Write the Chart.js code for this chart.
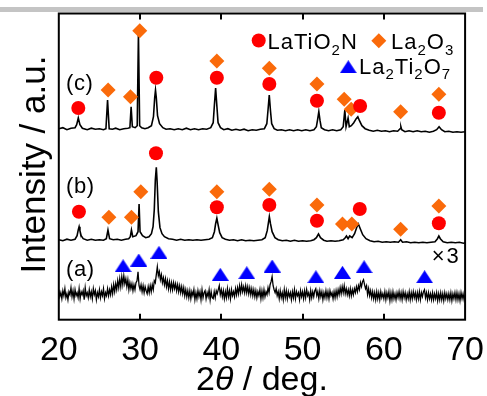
<!DOCTYPE html>
<html lang="en">
<head>
  <meta charset="UTF-8">
  <title>XRD patterns</title>
  <style>
    html, body { margin: 0; padding: 0; background: #fff; }
    .chart-container { width: 487px; height: 396px; }
  </style>
  <script src="https://cdn.jsdelivr.net/npm/chart.js"></script>
</head>
<body>
  <div class="chart-container">
    <canvas id="xrdChart" width="487" height="396"></canvas>
  </div>
  <script>
    // [2theta (deg), intensity (a.u., offset)]
    const traceC = [[20.0,191],[20.5,192],[21.0,190],[21.5,191.5],[22.0,192],[22.2,195],[22.4,201.7],[22.6,195],[22.9,191.5],[23.5,190],[24.0,191.5],[24.5,190.5],[25.0,191],[25.5,190],[25.8,191],[26.0,219.7],[26.2,191],[26.6,190.5],[27.0,191.5],[27.5,190],[28.0,191],[28.5,191.5],[28.75,192],[28.9,213],[29.05,193],[29.4,192],[29.65,194],[29.8,286.7],[29.95,194],[30.2,192],[30.6,191],[31.0,192],[31.4,194],[31.65,203],[31.8,222],[31.9,229.7],[32.0,222],[32.15,204],[32.4,196],[32.8,192],[33.2,190.5],[33.7,191],[34.2,190],[34.7,191],[35.2,190],[35.7,191.5],[36.2,190],[36.7,191],[37.2,190],[37.7,191],[38.2,190.5],[38.7,192],[39.0,197],[39.15,215],[39.3,231.7],[39.45,214],[39.6,197],[39.9,192],[40.3,190],[40.8,191],[41.3,189.5],[41.8,190.5],[42.3,189.5],[42.8,190.5],[43.3,189],[43.8,190],[44.3,189.5],[44.8,190.5],[45.3,191],[45.6,196],[45.75,210],[45.9,224.7],[46.05,209],[46.2,196],[46.5,191],[46.9,189.5],[47.4,190],[47.9,189],[48.4,190],[48.9,189],[49.4,190],[49.9,189],[50.4,190],[50.9,189],[51.4,190],[51.7,193],[51.85,200],[52.0,208],[52.15,199],[52.3,192],[52.7,190],[53.2,189],[53.7,190],[54.2,189],[54.7,190],[55.0,193],[55.2,209.7],[55.35,193],[55.6,201.7],[55.75,193],[56.0,194],[56.3,197],[56.6,201],[56.8,203],[57.0,199],[57.3,194],[57.7,191],[58.2,189.5],[58.7,188.5],[59.2,189.5],[59.7,188.5],[60.2,189],[60.7,188],[61.2,189],[61.7,188.5],[62.0,191],[62.1,193],[62.2,190],[62.6,188],[63.1,189],[63.6,188],[64.1,189],[64.6,188],[65.1,188.5],[65.6,187.5],[66.1,188.5],[66.5,190],[66.8,193],[67.1,190],[67.5,188],[68.0,188.5],[68.5,187.5],[69.0,188],[69.5,187.5],[70.0,188]];

    const traceB = [[20.0,80],[20.5,79],[21.0,80.5],[21.5,79.5],[22.0,80.5],[22.25,84],[22.4,90],[22.5,93],[22.6,89],[22.75,84],[23.0,81],[23.5,79.5],[24.0,80.5],[24.5,79.5],[25.0,80],[25.5,79.5],[25.85,81],[26.05,89.7],[26.25,81],[26.7,80],[27.2,80.5],[27.7,79.5],[28.2,80.5],[28.6,81],[28.8,83],[28.94,89.7],[29.1,83],[29.5,84],[29.75,88],[29.88,115.7],[30.0,88],[30.3,84],[30.7,82],[31.1,83],[31.4,86],[31.6,93],[31.75,110],[31.88,140],[32.0,152.4],[32.1,138],[32.25,108],[32.45,92],[32.7,86],[33.0,83],[33.5,81],[34.0,80.5],[34.5,79.5],[35.0,80.5],[35.5,79.5],[36.0,80],[36.5,79.5],[37.0,80],[37.5,79.5],[38.0,80],[38.5,80.5],[38.9,82],[39.15,88],[39.3,96],[39.45,101.4],[39.6,95],[39.8,87],[40.1,82],[40.5,80.5],[41.0,79.5],[41.5,80],[42.0,79],[42.5,80],[43.0,79],[43.5,79.5],[44.0,79],[44.5,79.5],[45.0,80],[45.4,82],[45.65,89],[45.8,97],[45.91,103],[46.05,96],[46.25,88],[46.6,82],[47.0,80],[47.5,79],[48.0,79.5],[48.5,78.5],[49.0,79.5],[49.5,78.5],[50.0,79],[50.5,78.5],[51.0,79],[51.4,80],[51.7,82],[51.96,85.7],[52.2,82],[52.6,79.5],[53.0,78.5],[53.5,79],[54.0,78.5],[54.5,79],[55.0,80],[55.25,82],[55.4,83.7],[55.6,81],[55.8,83.7],[56.1,82],[56.4,86],[56.65,92],[56.87,95.7],[57.1,91],[57.4,85],[57.8,81],[58.3,79],[58.8,78],[59.3,78.5],[59.8,77.5],[60.3,78],[60.8,77.5],[61.3,78],[61.8,77.5],[62.07,80],[62.3,77.5],[62.8,78],[63.3,77],[63.8,77.5],[64.3,77],[64.8,77.5],[65.3,77],[65.8,77.5],[66.3,78],[66.6,81],[66.77,83.7],[66.95,81],[67.3,78],[67.8,77],[68.3,77.5],[68.8,77],[69.3,77.5],[69.8,76.5],[70.0,77]];

    // (a) is the noisy, x3-scaled pattern: one value every 0.125 deg
    const traceA = [
      [20,30],[20.125,23],[20.25,27],[20.375,21],[20.5,29],[20.625,24],[20.75,31],[20.875,22],
      [21,26],[21.125,20],[21.25,28],[21.375,25],[21.5,32],[21.625,23],[21.75,29],[21.875,21],
      [22,30],[22.125,24],[22.25,27],[22.375,22],[22.5,31],[22.625,21],[22.75,28],[22.875,25],
      [23,29],[23.125,20],[23.25,32],[23.375,24],[23.5,27],[23.625,22],[23.75,30],[23.875,23],
      [24,28],[24.125,21],[24.25,31],[24.375,25],[24.5,29],[24.625,20],[24.75,27],[24.875,23],
      [25,30],[25.125,22],[25.25,28],[25.375,24],[25.5,31],[25.625,21],[25.75,27],[25.875,24],
      [26,31],[26.125,24],[26.25,30],[26.375,25],[26.5,33],[26.625,26],[26.75,35],[26.875,28],
      [27,36],[27.125,30],[27.25,39],[27.375,32],[27.5,41],[27.625,33],[27.75,43],[27.875,35],
      [28,44],[28.125,36],[28.25,41],[28.375,33],[28.5,40],[28.625,30],[28.75,37],[28.875,31],
      [29,36],[29.125,29],[29.25,35],[29.375,30],[29.5,37],[29.625,39],[29.75,48],[29.875,34],
      [30,30],[30.125,35],[30.25,28],[30.375,34],[30.5,27],[30.625,33],[30.75,29],[30.875,26],
      [31,33],[31.125,27],[31.25,34],[31.375,28],[31.5,35],[31.625,30],[31.75,39],[31.875,37],
      [32,45],[32.125,53],[32.25,44],[32.375,48],[32.5,40],[32.625,45],[32.75,37],[32.875,42],
      [33,35],[33.125,41],[33.25,33],[33.375,39],[33.5,31],[33.625,38],[33.75,30],[33.875,37],
      [34,30],[34.125,37],[34.25,31],[34.375,36],[34.5,29],[34.625,35],[34.75,28],[34.875,34],
      [35,27],[35.125,33],[35.25,26],[35.375,32],[35.5,24],[35.625,30],[35.75,23],[35.875,29],
      [36,22],[36.125,29],[36.25,21],[36.375,28],[36.5,24],[36.625,30],[36.75,20],[36.875,27],
      [37,21],[37.125,29],[37.25,23],[37.375,28],[37.5,20],[37.625,30],[37.75,22],[37.875,27],
      [38,29],[38.125,21],[38.25,27],[38.375,23],[38.5,30],[38.625,20],[38.75,28],[38.875,22],
      [39,21],[39.125,28],[39.25,22],[39.375,29],[39.5,26],[39.625,30],[39.75,34],[39.875,25],
      [40,30],[40.125,23],[40.25,29],[40.375,21],[40.5,28],[40.625,22],[40.75,31],[40.875,23],
      [41,29],[41.125,21],[41.25,30],[41.375,24],[41.5,28],[41.625,23],[41.75,31],[41.875,25],
      [42,32],[42.125,26],[42.25,34],[42.375,27],[42.5,35],[42.625,28],[42.75,33],[42.875,27],
      [43,34],[43.125,27],[43.25,33],[43.375,26],[43.5,32],[43.625,25],[43.75,31],[43.875,24],
      [44,30],[44.125,23],[44.25,29],[44.375,22],[44.5,28],[44.625,24],[44.75,30],[44.875,21],
      [45,29],[45.125,22],[45.25,30],[45.375,23],[45.5,28],[45.625,25],[45.75,32],[45.875,27],
      [46,35],[46.125,38],[46.25,43],[46.375,34],[46.5,30],[46.625,27],[46.75,31],[46.875,24],
      [47,28],[47.125,21],[47.25,29],[47.375,22],[47.5,27],[47.625,20],[47.75,30],[47.875,22],
      [48,29],[48.125,21],[48.25,28],[48.375,23],[48.5,27],[48.625,20],[48.75,28],[48.875,22],
      [49,30],[49.125,21],[49.25,28],[49.375,24],[49.5,27],[49.625,20],[49.75,29],[49.875,23],
      [50,28],[50.125,21],[50.25,29],[50.375,22],[50.5,30],[50.625,24],[50.75,27],[50.875,20],
      [51,29],[51.125,22],[51.25,28],[51.375,23],[51.5,29],[51.625,31],[51.75,24],[51.875,28],
      [52,21],[52.125,29],[52.25,23],[52.375,28],[52.5,20],[52.625,27],[52.75,22],[52.875,29],
      [53,22],[53.125,28],[53.25,21],[53.375,29],[53.5,24],[53.625,27],[53.75,21],[53.875,28],
      [54,22],[54.125,29],[54.25,23],[54.375,30],[54.5,25],[54.625,32],[54.75,26],[54.875,33],
      [55,27],[55.125,34],[55.25,26],[55.375,31],[55.5,25],[55.625,30],[55.75,24],[55.875,31],
      [56,24],[56.125,30],[56.25,25],[56.375,31],[56.5,27],[56.625,33],[56.75,28],[56.875,34],
      [57,30],[57.125,37],[57.25,33],[57.375,38],[57.5,40],[57.625,35],[57.75,31],[57.875,34],
      [58,25],[58.125,31],[58.25,24],[58.375,29],[58.5,22],[58.625,28],[58.75,21],[58.875,27],
      [59,20],[59.125,28],[59.25,21],[59.375,27],[59.5,20],[59.625,28],[59.75,22],[59.875,26],
      [60,21],[60.125,28],[60.25,20],[60.375,27],[60.5,22],[60.625,28],[60.75,19],[60.875,27],
      [61,20],[61.125,28],[61.25,21],[61.375,26],[61.5,20],[61.625,27],[61.75,22],[61.875,28],
      [62,21],[62.125,27],[62.25,20],[62.375,28],[62.5,22],[62.625,27],[62.75,20],[62.875,26],
      [63,21],[63.125,28],[63.25,20],[63.375,27],[63.5,21],[63.625,28],[63.75,22],[63.875,27],
      [64,20],[64.125,27],[64.25,21],[64.375,28],[64.5,20],[64.625,27],[64.75,23],[64.875,28],
      [65,30],[65.125,22],[65.25,27],[65.375,20],[65.5,27],[65.625,21],[65.75,26],[65.875,20],
      [66,27],[66.125,20],[66.25,26],[66.375,21],[66.5,27],[66.625,19],[66.75,26],[66.875,20],
      [67,27],[67.125,20],[67.25,26],[67.375,19],[67.5,27],[67.625,21],[67.75,26],[67.875,20],
      [68,26],[68.125,20],[68.25,27],[68.375,19],[68.5,26],[68.625,21],[68.75,27],[68.875,20],
      [69,27],[69.125,20],[69.25,26],[69.375,19],[69.5,27],[69.625,21],[69.75,26],[69.875,20],
      [70,25]
    ];

    // reflection markers [2theta, height]
    const latio2nC = [[22.4,211.7],[32.0,242],[39.45,242],[45.91,235.7],[51.77,219],[57.08,213.7],[66.77,207]];
    const la2o3C = [[26.07,229.7],[28.82,223],[29.96,289],[39.45,258.7],[45.91,251.4],[51.77,235.7],[55.12,220.4],[55.98,210.4],[62.07,208],[66.77,225.4]];
    const latio2nB = [[22.48,108],[31.96,166.4],[39.45,112.4],[45.91,114.7],[51.77,99],[57.04,110.7],[66.77,96.4]];
    const la2o3B = [[26.16,102.4],[28.94,102.4],[30.09,128],[39.45,128],[45.91,130.4],[51.77,114.7],[54.91,95.7],[56.06,95.7],[62.07,90.4],[66.77,113.7]];
    const la2ti2o7A = [[27.91,54],[29.84,59.7],[32.33,67.4],[39.87,45.4],[43.13,47],[46.26,53.7],[51.64,43],[54.91,47.4],[57.57,53],[65.02,43]];

    // text labels [text, 2theta, height]
    const traceLabels = [['(c)',20.9,229.7],['(b)',20.9,126.7],['(a)',20.9,43.7],['\u00d73',65.9,56.7]];

    const toXY = arr => arr.map(p => ({ x: p[0], y: p[1] }));
    const FONT = "'Liberation Sans', Arial, sans-serif";

    // wide blue triangle used for La2Ti2O7
    const tri = document.createElement('canvas');
    tri.width = 17; tri.height = 13;
    const tctx = tri.getContext('2d');
    tctx.fillStyle = '#0000ff';
    tctx.beginPath();
    tctx.moveTo(0, 13); tctx.lineTo(8.5, 0); tctx.lineTo(17, 13); tctx.closePath();
    tctx.fill();

    function lineSet(data, width) {
      return { type: 'line', data: toXY(data), borderColor: '#000', borderWidth: width,
               pointRadius: 0, tension: 0, fill: false, order: 1 };
    }
    function markSet(data, style, color, r) {
      return { type: 'scatter', data: toXY(data), pointStyle: style, pointRadius: r,
               backgroundColor: color, borderWidth: 0, order: 0 };
    }

    // chemical formula with subscripts: parts = [[text, isSub], ...]
    function drawFormula(ctx, parts, x, y, size) {
      parts.forEach(([txt, sub]) => {
        ctx.font = (sub ? Math.round(size * 0.7) : size) + 'px ' + FONT;
        ctx.fillText(txt, x, sub ? y + size * 0.25 : y);
        x += ctx.measureText(txt).width;
      });
    }

    const decor = {
      id: 'decor',
      beforeDraw(chart) {
        const ctx = chart.ctx;
        ctx.save();
        ctx.fillStyle = '#c4c4c4';
        ctx.fillRect(0, 7, chart.width - 4, 5);
        ctx.restore();
      },
      afterDraw(chart) {
        const { ctx, chartArea: a, scales: { x, y } } = chart;
        ctx.save();
        ctx.strokeStyle = '#000';
        ctx.lineWidth = 2;
        ctx.strokeRect(a.left, a.top, a.right - a.left, a.bottom - a.top);
        ctx.beginPath();
        x.ticks.forEach(t => {
          if (t.value <= 20 || t.value >= 70) return;
          const px = Math.round(x.getPixelForValue(t.value));
          ctx.moveTo(px, a.bottom); ctx.lineTo(px, a.bottom - 6);
          ctx.moveTo(px, a.top); ctx.lineTo(px, a.top + 6);
        });
        ctx.stroke();

        ctx.fillStyle = '#000';
        ctx.textBaseline = 'alphabetic';
        ctx.textAlign = 'left';
        ctx.font = '22px ' + FONT;
        traceLabels.forEach(([txt, tx, ty]) => {
          ctx.letterSpacing = txt.startsWith('(') ? '0.5px' : '2px';
          ctx.fillText(txt, x.getPixelForValue(tx), y.getPixelForValue(ty));
        });

        // legend
        ctx.letterSpacing = '1px';
        ctx.fillStyle = '#ff0000';
        ctx.beginPath(); ctx.arc(258.7, 40.5, 7, 0, Math.PI * 2); ctx.fill();
        ctx.fillStyle = '#fa6a0a';
        ctx.beginPath();
        ctx.moveTo(378.8 - 7.5, 40.8); ctx.lineTo(378.8, 33.3);
        ctx.lineTo(378.8 + 7.5, 40.8); ctx.lineTo(378.8, 48.3); ctx.closePath(); ctx.fill();
        ctx.drawImage(tri, 348.3 - 8.5, 66.7 - 6.5);
        ctx.fillStyle = '#000';
        drawFormula(ctx, [['LaTiO', 0], ['2', 1], ['N', 0]], 267.5, 49, 22);
        drawFormula(ctx, [['La', 0], ['2', 1], ['O', 0], ['3', 1]], 391, 49, 22);
        drawFormula(ctx, [['La', 0], ['2', 1], ['Ti', 0], ['2', 1], ['O', 0], ['7', 1]], 359, 73.5, 22);
        ctx.letterSpacing = '0px';

        // x title: 2θ / deg.
        const parts = [['2', ''], ['\u03b8', 'italic '], [' / deg.', '']];
        let w = 0;
        parts.forEach(([t, s]) => { ctx.font = s + '34px ' + FONT; w += ctx.measureText(t).width; });
        let cx = (a.left + a.right) / 2 - w / 2;
        parts.forEach(([t, s]) => { ctx.font = s + '34px ' + FONT; ctx.fillText(t, cx, 390); cx += ctx.measureText(t).width; });

        // y title
        ctx.translate(45, 164.5);
        ctx.rotate(-Math.PI / 2);
        ctx.textAlign = 'center';
        ctx.font = '35px ' + FONT;
        ctx.fillText('Intensity / a.u.', 0, 0);
        ctx.restore();
      }
    };

    new Chart(document.getElementById('xrdChart'), {
      data: {
        datasets: [
          lineSet(traceC, 1.6), lineSet(traceB, 1.6), lineSet(traceA, 1.3),
          markSet(latio2nC, 'circle', '#ff0000', 7),
          markSet(la2o3C, 'rectRot', '#fa6a0a', 7.5),
          markSet(latio2nB, 'circle', '#ff0000', 7),
          markSet(la2o3B, 'rectRot', '#fa6a0a', 7.5),
          markSet(la2ti2o7A, tri, '#0000ff', 8)
        ]
      },
      options: {
        responsive: false,
        animation: false,
        layout: { padding: { left: 58.8, right: 20.7, top: 13.5, bottom: 0 } },
        plugins: { legend: { display: false }, tooltip: { enabled: false } },
        scales: {
          x: {
            type: 'linear', min: 20, max: 70,
            grid: { display: false }, border: { display: false },
            ticks: { stepSize: 10, padding: 3, color: '#000', font: { family: FONT, size: 34 } },
            afterFit: s => { s.height = 76.3; }
          },
          y: { type: 'linear', min: 0, max: 306.2, display: false }
        }
      },
      plugins: [decor]
    });
  </script>
</body>
</html>
